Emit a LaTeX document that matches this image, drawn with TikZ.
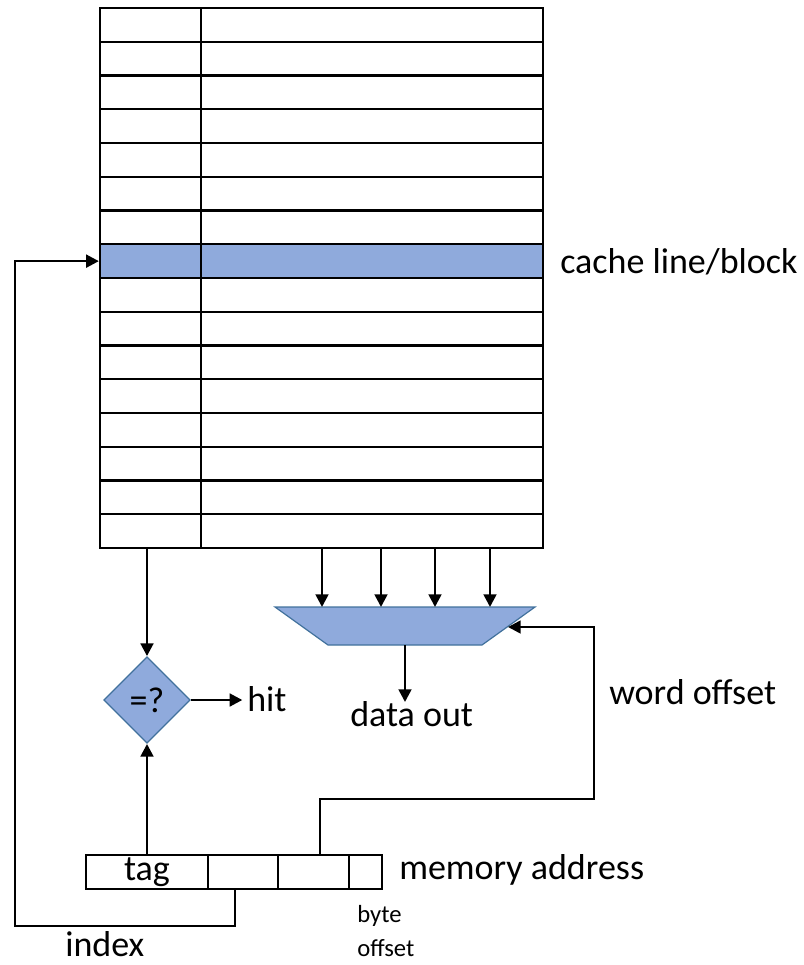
\documentclass[tikz,border=0pt]{standalone}
\usepackage{fontspec}
\setmainfont{Carlito}
\usetikzlibrary{arrows.meta,shapes.geometric}
\definecolor{cellblue}{HTML}{8FAADC}
\definecolor{edgeblue}{HTML}{41719C}
\begin{document}
\begin{tikzpicture}[x=0.75pt,y=-0.75pt,
  cell/.style={draw=black,line width=1.7pt,inner sep=0,minimum height=25.3125pt},
  arr/.style={line width=2pt,-{Triangle[length=9.5pt,width=9.5pt]}},
  blueshape/.style={draw=edgeblue,fill=cellblue,line width=0.9pt},
  lbl/.style={inner sep=0,anchor=base west,font=\fontsize{27}{30}\selectfont},
  small/.style={inner sep=0,anchor=base west,font=\fontsize{18.5}{21}\selectfont}]
\useasboundingbox (0,0) rectangle (804,965);

% cache array: tag column and data column, 16 lines
\foreach \i in {0,...,15}{
  \pgfmathsetmacro\yc{8+33.75*(\i+0.5)}
  \ifnum\i=7 \def\cf{cellblue}\else\def\cf{white}\fi
  \node[cell,fill=\cf,minimum width=75.75pt] (t\i) at (150.5,\yc) {};
  \node[cell,fill=\cf,minimum width=256.5pt] (d\i) at (372,\yc) {};
}
\node[lbl] (linelbl) at (560,273) {cache line/block};

% tag comparator
\node[diamond,blueshape,aspect=1,inner sep=0,minimum width=65pt,minimum height=65pt,
      font=\fontsize{27}{30}\selectfont] (cmp) at (147,700) {=?};
\node[lbl] (hit) at (247,711) {hit};

% word multiplexer
\coordinate (muxTL) at (275,607);
\coordinate (muxTR) at (535,607);
\coordinate (muxBR) at (482,645);
\coordinate (muxBL) at (328,645);
\coordinate (muxR) at (508,627);
\coordinate (muxout) at (405,645);
\draw[blueshape] (muxTL) -- (muxTR) -- (muxBR) -- (muxBL) -- cycle;
\node[lbl] (dout) at (350,726) {data out};
\node[lbl] (wordlbl) at (609,704) {word offset};

% memory address fields
\node[cell,minimum width=91.5pt] (a1) at (147,872) {\fontsize{27}{30}\selectfont tag};
\node[cell,minimum width=52.5pt] (a2) at (243,872) {};
\node[cell,minimum width=53.25pt] (a3) at (313.5,872) {};
\node[cell,minimum width=24.75pt] (a4) at (365.5,872) {};
\node[lbl] (addrlbl) at (399,879) {memory address};
\node[small] (byte1) at (357,922) {byte};
\node[small] (byte2) at (357,956) {offset};
\node[lbl] (idxlbl) at (65,956) {index};

% connectors
\draw[arr] (t15.south -| cmp) -- (cmp.north);
\draw[arr] (a1.north -| cmp) -- (cmp.south);
\draw[arr] (cmp.east) -- ([xshift=-3.5pt]cmp.east -| hit.west);
\foreach \x in {322,381,435,490}
  \draw[arr] (\x,0 |- d15.south) -- (\x,0 |- muxTL);
\draw[arr] (muxout) -- ++(0,57);
\coordinate (wo) at (320,0 |- a3.north);
\draw[arr] (wo) -- (320,799) -- (594,799) -- (594,627) -- (muxR);
\coordinate (ix) at (235,0 |- a2.south);
\draw[arr] (ix) |- (15,926) |- (t7.west);
\end{tikzpicture}
\end{document}
